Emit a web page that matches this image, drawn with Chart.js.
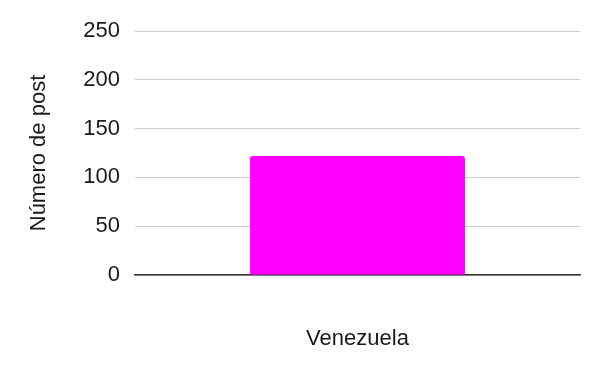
<!DOCTYPE html>
<html>
<head>
<meta charset="utf-8">
<script src="https://cdn.jsdelivr.net/npm/chart.js@4"></script>
<style>
  html, body { margin: 0; padding: 0; background: #fff; }
  #wrap { width: 600px; height: 371px; }
</style>
</head>
<body>
<div id="wrap"><canvas id="grafico" width="600" height="371"></canvas></div>
<script>
// Dados do gráfico
var paises = ["Venezuela"];
var numeroPosts = [122];
var ticksY = [0, 50, 100, 150, 200, 250];

Chart.defaults.font.family = "'Liberation Sans', Arial, sans-serif";
Chart.defaults.color = "#1a1a1a";

var ctx = document.getElementById("grafico").getContext("2d");
var grafico = new Chart(ctx, {
  type: "bar",
  data: {
    labels: paises,
    datasets: [
      {
        label: "Número de post",
        data: numeroPosts,
        backgroundColor: "#ff00ff",
        borderRadius: 3,
        categoryPercentage: 1,
        barPercentage: 0.483,
      },
    ],
  },
  options: {
    responsive: false,
    animation: false,
    layout: { padding: { top: 31, right: 20, left: 0, bottom: 0 } },
    plugins: { legend: { display: false }, tooltip: { enabled: false } },
    scales: {
      x: {
        grid: { display: false },
        border: { color: "#333", width: 1.5 },
        ticks: { font: { size: 22 }, padding: 43 },
        afterFit: function (scale) {
          scale.height = 96;
        },
      },
      y: {
        min: ticksY[0],
        max: ticksY[ticksY.length - 1],
        afterBuildTicks: function (scale) {
          scale.ticks = ticksY.map(function (v) { return { value: v }; });
        },
        ticks: { font: { size: 22 }, padding: 15 },
        grid: { color: "#cccccc", drawTicks: false },
        border: { display: false },
        title: {
          display: true,
          text: "Número de post",
          font: { size: 22 },
          padding: { top: 26, bottom: 0 },
        },
        afterFit: function (scale) {
          scale.width = 135;
        },
      },
    },
  },
});
</script>
</body>
</html>
